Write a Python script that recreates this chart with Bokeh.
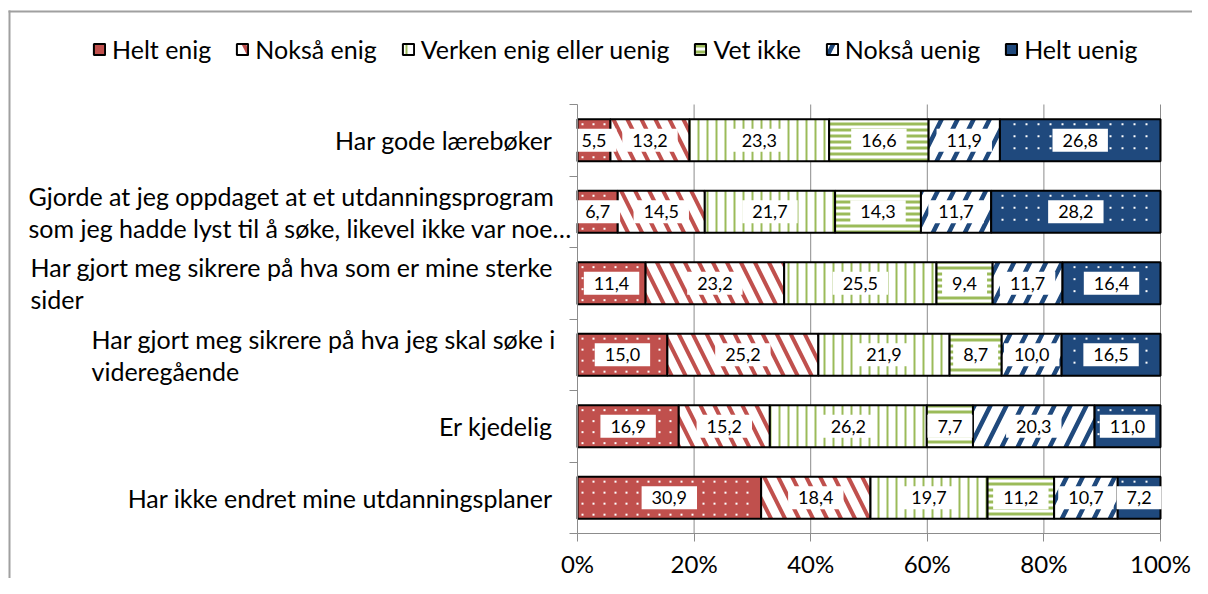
from bokeh.plotting import figure
from bokeh.models import (Range1d, FixedTicker, Legend, LegendItem, ColumnDataSource, BoxAnnotation)
from bokeh.core.properties import value
from bokeh.embed import file_html
from bokeh.resources import INLINE

# ---------------- data ----------------
label_lines = [
    ["Har gode lærebøker"],
    ["Gjorde at jeg oppdaget at et utdanningsprogram",
     "som jeg hadde lyst til å søke, likevel ikke var noe…"],
    ["Har gjort meg sikrere på hva som er mine sterke", "sider"],
    ["Har gjort meg sikrere på hva jeg skal søke i", "videregående"],
    ["Er kjedelig"],
    ["Har ikke endret mine utdanningsplaner"],
]
series = ["Helt enig", "Nokså enig", "Verken enig eller uenig", "Vet ikke", "Nokså uenig", "Helt uenig"]
helt_enig   = [5.5, 6.7, 11.4, 15.0, 16.9, 30.9]
noksa_enig  = [13.2, 14.5, 23.2, 25.2, 15.2, 18.4]
verken      = [23.3, 21.7, 25.5, 21.9, 26.2, 19.7]
vet_ikke    = [16.6, 14.3, 9.4, 8.7, 7.7, 11.2]
noksa_uenig = [11.9, 11.7, 11.7, 10.0, 20.3, 10.7]
helt_uenig  = [26.8, 28.2, 16.4, 16.5, 11.0, 7.2]
tick_values = [0, 20, 40, 60, 80, 100]
tick_labels = ["0%", "20%", "40%", "60%", "80%", "100%"]

values = [helt_enig, noksa_enig, verken, vet_ikke, noksa_uenig, helt_uenig]
n = len(label_lines)

# ---------------- layout (canvas pixels) ----------------
W, H = 1192, 578
PX_LEFT, PX_RIGHT = 577, 1160      # 0% and 100%
PX_TOP, PX_BOTTOM = 104, 533       # top of first band, bottom of last band
BAR_H = 0.59                       # bar thickness in band units
xs = (PX_RIGHT - PX_LEFT) / 100.0
ys = (PX_BOTTOM - PX_TOP) / n
x_start, x_end = -PX_LEFT / xs, (W - PX_LEFT) / xs
y_top, y_bottom = 0.5 - PX_TOP / ys, 0.5 + (H - PX_TOP) / ys

RED, GREEN, NAVY = "#C0504D", "#9BBB59", "#1F497D"
styles = [
    dict(fill_color=RED),
    dict(fill_color="white", hatch_pattern="left_diagonal_line", hatch_color=RED, hatch_scale=28, hatch_weight=4),
    dict(fill_color="white", hatch_pattern="vertical_line", hatch_color=GREEN, hatch_scale=9, hatch_weight=2),
    dict(fill_color="white", hatch_pattern="horizontal_line", hatch_color=GREEN, hatch_scale=6, hatch_weight=3),
    dict(fill_color="white", hatch_pattern="right_diagonal_line", hatch_color=NAVY, hatch_scale=32, hatch_weight=4.5),
    dict(fill_color=NAVY),
]
DOTTED = {0: 11, 5: 12}            # series drawn with a white dot texture -> dot spacing (px)

FONT = "Lato"
p = figure(width=W, height=H, output_backend="svg", toolbar_location=None,
           x_range=Range1d(x_start, x_end), y_range=Range1d(y_bottom, y_top),
           min_border=0, min_border_left=0, min_border_right=0, min_border_top=0, min_border_bottom=0)
p.outline_line_color = None
p.background_fill_color = "white"
p.border_fill_color = "white"
p.xgrid.visible = False
p.ygrid.visible = False

GRAY = "#8C8C8C"
rows = list(range(1, n + 1))

# vertical gridlines (from the tick values)
grid_x = tick_values[1:]
p.segment(x0=grid_x, x1=grid_x, y0=[0.5] * len(grid_x), y1=[n + 0.5] * len(grid_x),
          line_color=GRAY, line_width=1)

# stacked 100% bars
totals = [sum(v[i] for v in values) for i in range(n)]
lefts = [0.0] * n
renderers = []
lab_x, lab_y, lab_t = [], [], []
dot_x, dot_y = [], []
for s, vals in enumerate(values):
    rights = [lefts[i] + vals[i] / totals[i] * 100 for i in range(n)]
    src = ColumnDataSource(dict(y=rows, left=lefts, right=rights))
    r = p.hbar(y="y", left="left", right="right", height=BAR_H, source=src,
               line_color="black", line_width=2, **styles[s])
    renderers.append(r)
    for i in range(n):
        lab_x.append((lefts[i] + rights[i]) / 2)
        lab_y.append(rows[i])
        lab_t.append(f"{vals[i]:.1f}".replace(".", ","))
        if s in DOTTED:            # texture: small white dots on a regular pixel grid
            step = DOTTED[s]
            x0 = lefts[i] * xs + PX_LEFT
            x1 = rights[i] * xs + PX_LEFT
            yc = PX_TOP + (rows[i] - 0.5) * ys
            t0, t1 = yc - BAR_H * ys / 2, yc + BAR_H * ys / 2
            gx = PX_LEFT + 5
            while gx < x1 - 3:
                if gx > x0 + 3:
                    gy = t0 + 5
                    while gy < t1 - 3:
                        dot_x.append((gx - PX_LEFT) / xs)
                        dot_y.append(0.5 + (gy - PX_TOP) / ys)
                        gy += step
                gx += step
    lefts = rights

p.scatter(x=dot_x, y=dot_y, marker="square", size=2, fill_color="white", line_color=None)

lsrc = ColumnDataSource(dict(x=lab_x, y=lab_y, text=lab_t))
p.text(x="x", y="y", text="text", source=lsrc, text_align="center", text_baseline="middle",
       text_font=value(FONT), text_font_size="18px", text_color="black",
       background_fill_color="white", padding=dict(left=10, right=10, top=5, bottom=5))

# axes
p.xaxis.fixed_location = n + 0.5
p.xaxis.bounds = (0, 100)
p.xaxis.ticker = FixedTicker(ticks=tick_values)
p.xaxis.major_label_overrides = {t: l for t, l in zip(tick_values, tick_labels)}
p.xaxis.major_label_text_font = FONT
p.xaxis.major_label_text_font_size = "24px"
p.xaxis.major_label_text_color = "black"
p.xaxis.axis_line_color = GRAY
p.xaxis.major_tick_line_color = GRAY
p.xaxis.major_tick_out = 8
p.xaxis.major_tick_in = 0
p.xaxis.minor_tick_line_color = None
p.xaxis.major_label_standoff = 7

p.yaxis.fixed_location = 0
p.yaxis.bounds = (0.5, n + 0.5)
p.yaxis.ticker = FixedTicker(ticks=[], minor_ticks=[r + 0.5 for r in range(0, n + 1)])
p.yaxis.axis_line_color = GRAY
p.yaxis.major_tick_line_color = None
p.yaxis.minor_tick_line_color = GRAY
p.yaxis.minor_tick_out = 8
p.yaxis.minor_tick_in = 0

# category labels
LINE_OFF = 16
R_EDGE = -25                      # px from the 0% line
LEFT_START = {1: -549, 2: -547, 3: -486}
rx, ry, rt = [], [], []
lx, ly, lt, lxo, lyo = [], [], [], [], []
for i, lines in enumerate(label_lines):
    if len(lines) == 1:
        rx.append(0); ry.append(rows[i]); rt.append(lines[0])
    else:
        for k, line in enumerate(lines):
            lx.append(0); ly.append(rows[i]); lt.append(line)
            lxo.append(LEFT_START[i]); lyo.append(-LINE_OFF if k == 0 else LINE_OFF)
p.text(x=rx, y=ry, text=rt, x_offset=R_EDGE, text_align="right", text_baseline="middle",
       text_font=value(FONT), text_font_size="25px", text_color="black")
p.text(x="x", y="y", text="t", x_offset="xo", y_offset="yo",
       source=ColumnDataSource(dict(x=lx, y=ly, t=lt, xo=lxo, yo=lyo)),
       text_align="left", text_baseline="middle",
       text_font=value(FONT), text_font_size="25px", text_color="black")

# legend
legend = Legend(items=[LegendItem(label=series[s], renderers=[renderers[s]]) for s in range(len(series))],
                orientation="horizontal", location=(92, 514),
                glyph_width=14, glyph_height=14, label_standoff=6, spacing=24,
                padding=0, margin=0, border_line_color=None, background_fill_alpha=0,
                label_text_font=FONT, label_text_font_size="25px", label_text_color="black")
p.add_layout(legend)

# chart border (top and left edges visible in the window)
BORDER = "#A0A0A0"
bx = lambda px: (px - PX_LEFT) / xs
by = lambda py: 0.5 + (py - PX_TOP) / ys
p.add_layout(BoxAnnotation(left=bx(8), right=bx(10), top=by(10), bottom=by(H + 10),
                           fill_color=BORDER, fill_alpha=1, line_color=None))
p.add_layout(BoxAnnotation(left=bx(8), right=bx(W + 10), top=by(10), bottom=by(12),
                           fill_color=BORDER, fill_alpha=1, line_color=None))

open("out.html", "w").write(file_html(p, INLINE))
